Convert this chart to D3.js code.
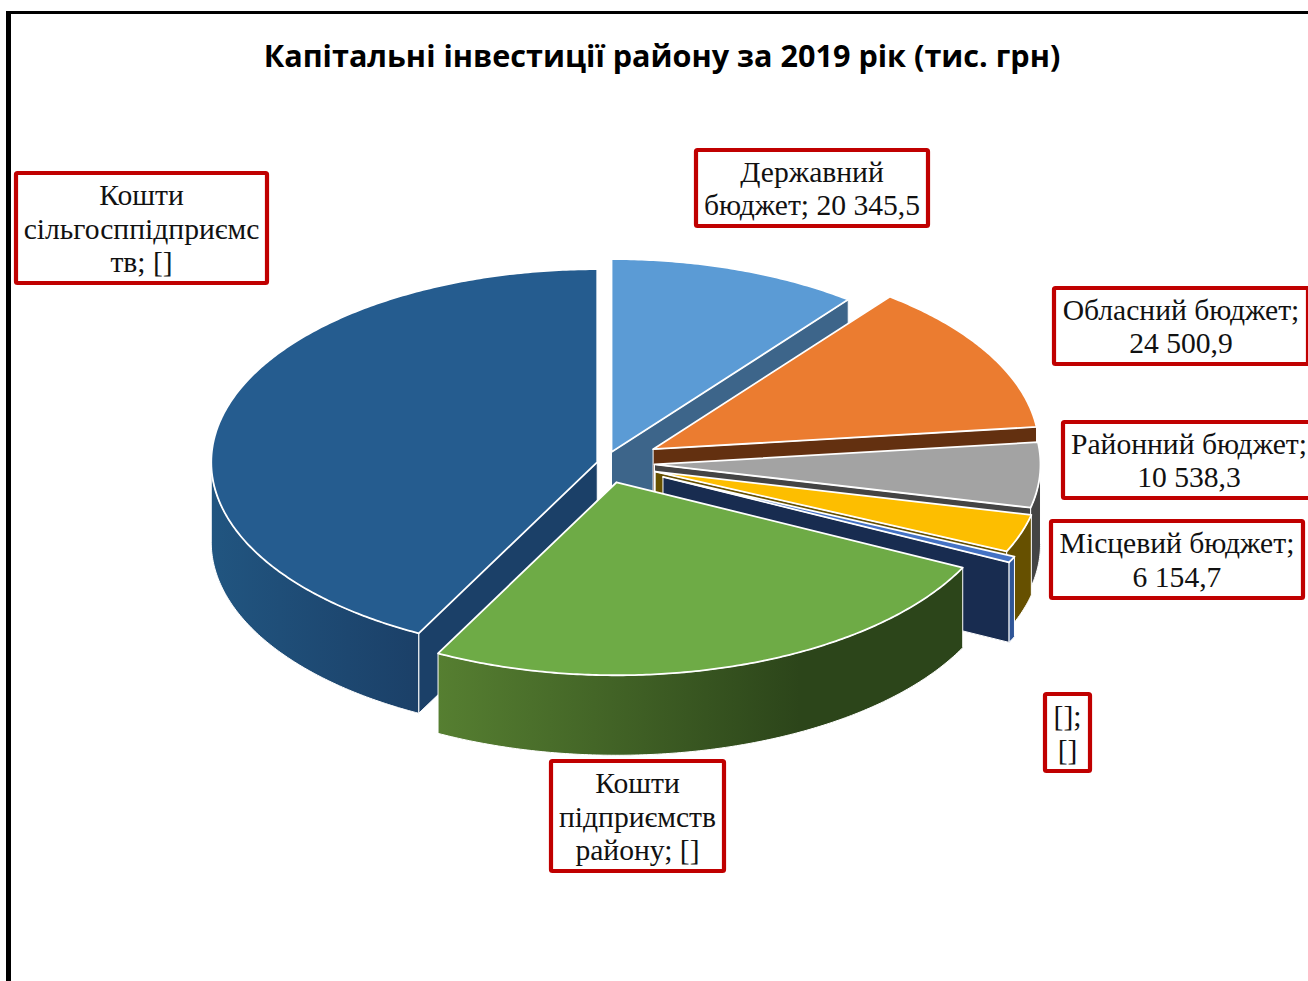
<!DOCTYPE html>
<html>
<head>
<meta charset="utf-8">
<script src="https://cdn.jsdelivr.net/npm/d3@7"></script>
<style>
  html, body { margin: 0; padding: 0; background: #fff; overflow: hidden; }
</style>
</head>
<body>
<div id="chart"></div>
<script>
// values, the unlabelled ones are estimates from the slice angles
var categories = ["Державний бюджет", "Обласний бюджет", "Районний бюджет", "Місцевий бюджет", "[]", "Кошти підприємств району", "Кошти сільгосппідприємств"];
var values = [20345.5, 24500.9, 10538.3, 6154.7, 1000, 49100, 82000];
var labelLines = [
    ["Державний", "бюджет; 20 345,5"],
    ["Обласний бюджет;", "24 500,9"],
    ["Районний бюджет;", "10 538,3"],
    ["Місцевий бюджет;", "6 154,7"],
    ["[];", "[]"],
    ["Кошти", "підприємств", "району; []"],
    ["Кошти", "сільгосппідприємс", "тв; []"]
];
var title = "Капітальні інвестиції району за 2019 рік (тис. грн)";

// how far each slice is pulled out, share of the radius
var explode = [0.06, 0.146, 0.131, 0.14, 0.169, 0.105, 0.018];

var topColors = ["#5b9bd5", "#eb7c30", "#a3a3a3", "#fdbe00", "#4472c4", "#6eab46", "#255c8f"];
var cutColors = ["#3d658a", "#633010", "#444444", "#665000", "#182c50", "#2c451a", "#1b4068"];
var wallColors = ["#3d658a", "#633010", "#444444", "#665000", "#2f5597", "url(#greenWall)", "url(#blueWall)"];
var drawOrder = [0, 1, 2, 3, 4, 6, 5];

// label boxes: outer left, top, right, bottom
var boxes = [
    [696, 150, 928, 226],
    [1054, 288, 1308, 364],
    [1063, 422, 1315, 498],
    [1051, 521, 1303, 598],
    [1045, 694, 1090, 771],
    [551, 761, 724, 871],
    [16, 173, 267, 283]
];

var width = 1308,
    height = 981;
var cx = 604,
    cy = 463,
    radius = 386,
    tilt = 0.5,
    depth = 80;

var svg = d3.select("#chart").append("svg")
    .attr("width", width)
    .attr("height", height)
    .style("display", "block");

var defs = svg.append("defs");
function gradient(id, x1, x2, c1, c2) {
    var g = defs.append("linearGradient").attr("id", id)
        .attr("gradientUnits", "userSpaceOnUse")
        .attr("x1", x1).attr("x2", x2).attr("y1", 0).attr("y2", 0);
    g.append("stop").attr("offset", 0).attr("stop-color", c1);
    g.append("stop").attr("offset", 1).attr("stop-color", c2);
}
gradient("greenWall", 437, 800, "#567f31", "#2c451a");
gradient("blueWall", 211, 417, "#215580", "#1b4068");

// frame
svg.append("path")
    .attr("d", "M8.5,981V11")
    .attr("stroke", "#000")
    .attr("stroke-width", 5);
svg.append("path")
    .attr("d", "M6,12.5H1308")
    .attr("stroke", "#000")
    .attr("stroke-width", 3);

svg.append("text")
    .attr("x", 662)
    .attr("y", 67)
    .attr("text-anchor", "middle")
    .attr("font-family", "'Open Sans'")
    .attr("font-weight", 700)
    .attr("font-size", 30.6)
    .attr("fill", "#000")
    .text(title);

var pie = d3.pie().sort(null).value(function (d) { return d; });
var slices = pie(values);

var line = d3.line();

// screen position of a point on the slice plane
function project(slice, angle, r, drop) {
    var mid = (slice.startAngle + slice.endAngle) / 2,
        e = explode[slice.index] * radius;
    var x = e * Math.sin(mid) + r * Math.sin(angle),
        y = -(e * Math.cos(mid) + r * Math.cos(angle)) * tilt;
    return [cx + x, cy + y + drop];
}

function rim(slice, a0, a1, drop) {
    var n = Math.max(2, Math.ceil((a1 - a0) / 0.01));
    return d3.range(n + 1).map(function (i) {
        return project(slice, a0 + (a1 - a0) * i / n, radius, drop);
    });
}

function cut(slice, angle) {
    return [
        project(slice, angle, 0, 0),
        project(slice, angle, radius, 0),
        project(slice, angle, radius, depth),
        project(slice, angle, 0, depth)
    ];
}

var pieGroup = svg.append("g")
    .attr("stroke", "#fff")
    .attr("stroke-linejoin", "round");

drawOrder.forEach(function (i) {
    var s = slices[i],
        g = pieGroup.append("g").attr("class", "slice").attr("stroke-width", 1);

    // side cuts, only those turned towards the viewer
    if (Math.sin(s.startAngle) < -1e-6) {
        g.append("path").attr("d", line(cut(s, s.startAngle)) + "Z").attr("fill", cutColors[i]);
    }
    if (Math.sin(s.endAngle) > 1e-6) {
        g.append("path").attr("d", line(cut(s, s.endAngle)) + "Z").attr("fill", cutColors[i]);
    }

    // outer wall, front half only
    var a0 = Math.max(s.startAngle, Math.PI / 2),
        a1 = Math.min(s.endAngle, Math.PI * 1.5);
    if (a1 > a0) {
        var wall = rim(s, a0, a1, 0).concat(rim(s, a0, a1, depth).reverse());
        g.append("path").attr("d", line(wall) + "Z").attr("fill", wallColors[i]);
    }

    // top
    var top = [project(s, s.startAngle, 0, 0)].concat(rim(s, s.startAngle, s.endAngle, 0));
    g.append("path").attr("d", line(top) + "Z").attr("fill", topColors[i]).attr("stroke-width", 1.8);
});

// data labels
var lineHeight = 33.6;
var labels = svg.append("g")
    .selectAll("g")
    .data(labelLines)
    .enter().append("g");

labels.append("rect")
    .attr("x", function (d, i) { return boxes[i][0]; })
    .attr("y", function (d, i) { return boxes[i][1]; })
    .attr("width", function (d, i) { return boxes[i][2] - boxes[i][0]; })
    .attr("height", function (d, i) { return boxes[i][3] - boxes[i][1]; })
    .attr("rx", 1.5)
    .attr("fill", "#fff")
    .attr("stroke", "#c00000")
    .attr("stroke-width", 4.2);

labels.each(function (d, i) {
    var b = boxes[i],
        mx = (b[0] + b[2]) / 2,
        my = (b[1] + b[3]) / 2;
    d3.select(this).selectAll("text")
        .data(d)
        .enter().append("text")
        .attr("x", mx)
        .attr("y", function (t, j) { return my + (j - (d.length - 1) / 2) * lineHeight + 10.5; })
        .attr("text-anchor", "middle")
        .attr("font-family", "'Liberation Serif'")
        .attr("font-size", 29.6)
        .attr("fill", "#111")
        .text(function (t) { return t; });
});
</script>
</body>
</html>
